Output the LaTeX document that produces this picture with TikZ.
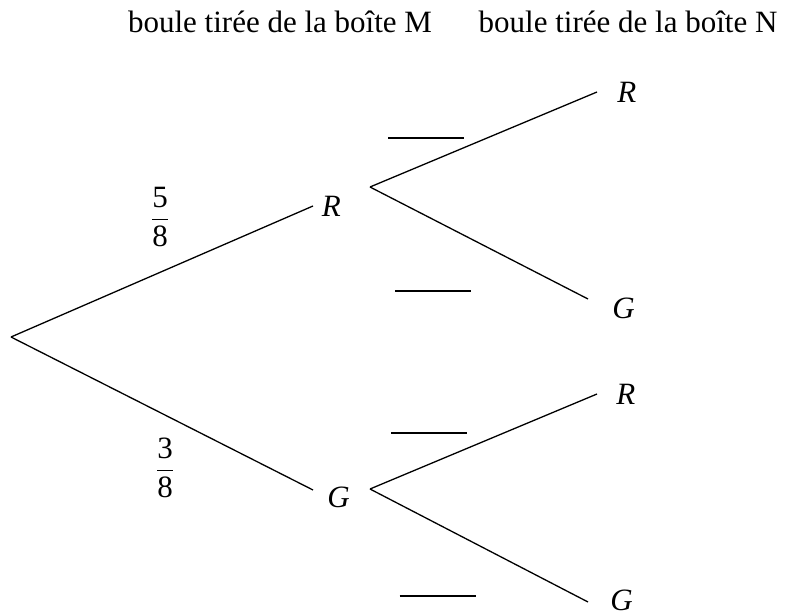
\documentclass[tikz,border=0pt]{standalone}
\usepackage{amsmath}
\usepackage{fontspec}
\setmainfont{Liberation Serif}
\usetikzlibrary{positioning}

\begin{document}
\begin{tikzpicture}[
  x=0.5pt, y=-0.5pt,
  font=\fontsize{15.5}{18.6}\selectfont,
  branch/.style={line width=0.65pt},
  lbl/.style={inner sep=0pt, font=\fontsize{15.5}{18.6}\selectfont\itshape},
  frac/.style={inner sep=0pt},
  blank/.style={line width=0.6pt}
]
\useasboundingbox (0,0) rectangle (787,614);

% column titles
\node[anchor=base] (titleM) at (280,33) {boule tirée de la boîte M};
\node[anchor=base] (titleN) at (628,33) {boule tirée de la boîte N};

% first draw (box M)
\coordinate (root) at (11,337);
\coordinate (endR) at (313,206);
\coordinate (endG) at (313,490);
\node[lbl, right=4.25pt of endR] (R) {R};
\node[lbl, right=7pt of endG, yshift=-3.5pt] (G) {G};
\node[frac] (pR) at (160,217) {$\dfrac{\text{5}}{\text{8}}$};
\node[frac] (pG) at (165,468) {$\dfrac{\text{3}}{\text{8}}$};

\draw[branch] (root) -- (endR);
\draw[branch] (root) -- (endG);

% second draw (box N)
\coordinate (forkR) at (370,187);
\coordinate (forkG) at (370,489);
\coordinate (endRR) at (597,92);
\coordinate (endRG) at (588,299);
\coordinate (endGR) at (597,394);
\coordinate (endGG) at (588,602);
\node[lbl, right=10pt of endRR] (RR) {R};
\node[lbl, right=12pt of endRG, yshift=-4.5pt] (RG) {G};
\node[lbl, right=9.5pt of endGR] (GR) {R};
\node[lbl, right=11pt of endGG, yshift=1pt] (GG) {G};

\draw[branch] (forkR) -- (endRR);
\draw[branch] (forkR) -- (endRG);
\draw[branch] (forkG) -- (endGR);
\draw[branch] (forkG) -- (endGG);

% blanks for the missing probabilities
\foreach \x/\y in {426/138, 433/291, 429/433, 437.5/596}
  \draw[blank] (\x-38,\y) -- (\x+38,\y);
\end{tikzpicture}
\end{document}
